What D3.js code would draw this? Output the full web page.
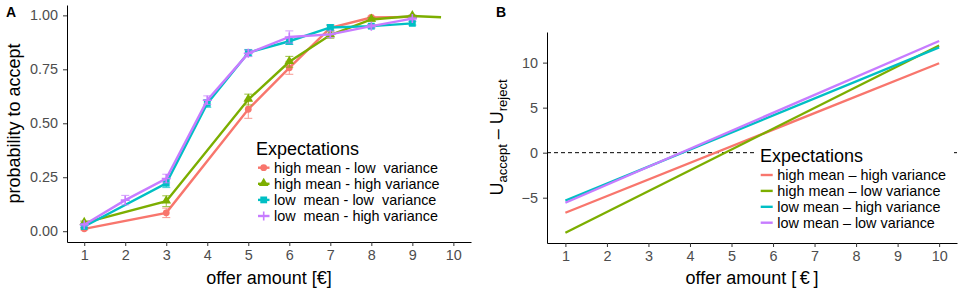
<!DOCTYPE html>
<html>
<head>
<meta charset="utf-8">
<script src="https://cdn.jsdelivr.net/npm/d3@7"></script>
<style>
  body { margin: 0; background: #fff; }
  svg { font-family: "Liberation Sans", Arial, sans-serif; }
  .tick text { fill: #4d4d4d; font-size: 14.4px; }
  .tick line { stroke: #333; }
  .domain { stroke: #000; }
</style>
</head>
<body>
<div id="chart"></div>
<script>
// ---- panel A data: probability to accept by offer amount ----
var seriesNamesA = ['high mean - low  variance', 'high mean - high variance', 'low  mean - low  variance', 'low  mean - high variance'];
var colorsA = ['#F8766D', '#7CAE00', '#00BFC4', '#C77CFF'];
var shapesA = ['circle', 'triangle', 'square', 'plus'];

var hmlvX = [1, 3, 5, 6, 7, 8, 9];
var hmlvY = [0.011, 0.085, 0.565, 0.757, 0.942, 0.99, 0.993];
var hmlvErr = [0.005, 0.022, 0.042, 0.03, 0.012, 0.006, 0.005];

var hmhvX = [1, 3, 5, 6, 7, 8, 9, 9.7];
var hmhvY = [0.039, 0.139, 0.61, 0.785, 0.909, 0.981, 0.997, 0.991];
var hmhvErr = [0.008, 0.025, 0.025, 0.025, 0.015, 0.008, 0.004, null];

var lmlvX = [1, 3, 4, 5, 6, 7, 8, 9];
var lmlvY = [0.022, 0.222, 0.592, 0.827, 0.88, 0.944, 0.95, 0.963];
var lmlvErr = [0.006, 0.02, 0.018, 0.015, 0.015, 0.012, 0.008, 0.008];

var lmhvX = [1, 2, 3, 4, 5, 6, 7, 8, 9];
var lmhvY = [0.03, 0.144, 0.244, 0.607, 0.824, 0.9, 0.912, 0.95, 0.985];
var lmhvErr = [0.006, 0.022, 0.02, 0.02, 0.015, 0.028, 0.015, 0.008, 0.006];

// ---- panel B data: fitted utility difference (lines from x=1 to x=10) ----
var seriesNamesB = ['high mean \u2013 high variance', 'high mean \u2013 low variance', 'low mean \u2013 high variance', 'low mean \u2013 low variance'];
var colorsB = ['#F8766D', '#7CAE00', '#00BFC4', '#C77CFF'];
var lineX = [1, 10];
var hmhvU = [-6.67, 9.93];
var hmlvU = [-8.89, 11.9];
var lmhvU = [-5.33, 11.7];
var lmlvU = [-5.56, 12.4];

var xTicks = [1, 2, 3, 4, 5, 6, 7, 8, 9, 10];
var yTicksA = [0, 0.25, 0.5, 0.75, 1];
var yTicksB = [-5, 0, 5, 10];

var W = 964, H = 292;
var svg = d3.select('#chart').append('svg').attr('width', W).attr('height', H);

var seriesA = [
  {x: hmlvX, y: hmlvY, e: hmlvErr},
  {x: hmhvX, y: hmhvY, e: hmhvErr},
  {x: lmlvX, y: lmlvY, e: lmlvErr},
  {x: lmhvX, y: lmhvY, e: lmhvErr}
].map(function(s, i){
  return {
    name: seriesNamesA[i], color: colorsA[i], shape: shapesA[i],
    pts: s.x.map(function(v, j){ return {x: v, y: s.y[j], e: s.e[j]}; })
  };
});

var seriesB = [hmhvU, hmlvU, lmhvU, lmlvU].map(function(u, i){
  return {name: seriesNamesB[i], color: colorsB[i], pts: lineX.map(function(v, j){ return {x: v, y: u[j]}; })};
});

// ================= panel A =================
var pa = {left: 67, right: 471, top: 5, bottom: 242};
var xA = d3.scaleLinear().domain([0.58, 10.43]).range([pa.left, pa.right]);
var yA = d3.scaleLinear().domain([-0.05, 1.048]).range([pa.bottom, pa.top]);

var gA = svg.append('g');

gA.append('g')
  .attr('transform', 'translate(0,' + pa.bottom + ')')
  .call(d3.axisBottom(xA).tickValues(xTicks).tickFormat(d3.format('d')).tickSize(4).tickSizeOuter(0).tickPadding(4))
  .selectAll('text').attr('dy', '0.71em');

gA.append('g')
  .attr('transform', 'translate(' + pa.left + ',0)')
  .call(d3.axisLeft(yA).tickValues(yTicksA).tickFormat(d3.format('.2f')).tickSize(4).tickSizeOuter(0).tickPadding(5));

var lineA = d3.line().x(function(d){ return xA(d.x); }).y(function(d){ return yA(d.y); });

seriesA.forEach(function(s){
  var g = gA.append('g');
  // error bars
  var eb = g.selectAll('g.eb').data(s.pts.filter(function(d){ return d.e != null; }))
    .enter().append('g').attr('stroke', s.color).attr('stroke-width', 1).attr('opacity', 0.75);
  eb.append('line')
    .attr('x1', function(d){ return xA(d.x); }).attr('x2', function(d){ return xA(d.x); })
    .attr('y1', function(d){ return yA(d.y - d.e); }).attr('y2', function(d){ return yA(d.y + d.e); });
  [-1, 1].forEach(function(sg){
    eb.append('line')
      .attr('x1', function(d){ return xA(d.x) - 4; }).attr('x2', function(d){ return xA(d.x) + 4; })
      .attr('y1', function(d){ return yA(d.y + sg * d.e); }).attr('y2', function(d){ return yA(d.y + sg * d.e); });
  });
  g.append('path').attr('d', lineA(s.pts))
    .attr('fill', 'none').attr('stroke', s.color).attr('stroke-width', 2.4);
  // markers (not on the extrapolated tail without error bar)
  drawMarkers(g, s.pts.filter(function(d){ return d.e != null; }).map(function(d){ return [xA(d.x), yA(d.y)]; }), s.shape, s.color);
});

function drawMarkers(g, pts, shape, color){
  pts.forEach(function(p){
    var x = p[0], y = p[1];
    if(shape === 'circle'){
      g.append('circle').attr('cx', x).attr('cy', y).attr('r', 3.4).attr('fill', color);
    } else if(shape === 'triangle'){
      g.append('path').attr('d', d3.symbol().type(d3.symbolTriangle).size(40)()).attr('transform', 'translate(' + x + ',' + (y - 0.5) + ')').attr('fill', color);
    } else if(shape === 'square'){
      g.append('rect').attr('x', x - 3.4).attr('y', y - 3.4).attr('width', 6.8).attr('height', 6.8).attr('fill', color);
    } else {
      g.append('path').attr('d', 'M' + (x - 4.5) + ',' + y + 'H' + (x + 4.5) + 'M' + x + ',' + (y - 4.5) + 'V' + (y + 4.5))
        .attr('stroke', color).attr('stroke-width', 1.6);
    }
  });
}

gA.append('text').attr('x', (pa.left + pa.right) / 2).attr('y', 284)
  .attr('text-anchor', 'middle').attr('font-size', 18).text('offer amount [\u20AC]');
gA.append('text').attr('transform', 'translate(19.5,' + ((pa.top + pa.bottom) / 2) + ') rotate(-90)')
  .attr('text-anchor', 'middle').attr('font-size', 18).text('probability to accept');
gA.append('text').attr('x', 6).attr('y', 17).attr('font-size', 14).attr('font-weight', 'bold').text('A');

// legend A
var legA = gA.append('g').attr('transform', 'translate(256,0)');
legA.append('text').attr('x', 0).attr('y', 155).attr('font-size', 18).text('Expectations');
seriesA.forEach(function(s, i){
  var cy = 167.7 + i * 16.1;
  legA.append('line').attr('x1', 2).attr('x2', 13.5).attr('y1', cy).attr('y2', cy)
    .attr('stroke', s.color).attr('stroke-width', 2.4);
  drawMarkers(legA, [[7.7, cy]], s.shape, s.color);
  legA.append('text').attr('x', 18).attr('y', cy).attr('dy', '0.36em')
    .attr('font-size', 14.4).style('white-space', 'pre').text(s.name);
});

// ================= panel B =================
var pb = {left: 547, right: 957, top: 32, bottom: 243};
var xB = d3.scaleLinear().domain([0.557, 10.43]).range([pb.left, pb.right]);
var yB = d3.scaleLinear().domain([-10.03, 13.4]).range([pb.bottom, pb.top]);

var gB = svg.append('g');

gB.append('g')
  .attr('transform', 'translate(0,' + pb.bottom + ')')
  .call(d3.axisBottom(xB).tickValues(xTicks).tickFormat(d3.format('d')).tickSize(4).tickSizeOuter(0).tickPadding(4))
  .selectAll('text').attr('dy', '0.71em');

gB.append('g')
  .attr('transform', 'translate(' + pb.left + ',0)')
  .call(d3.axisLeft(yB).tickValues(yTicksB).tickFormat(function(d){ return d < 0 ? '\u2212' + Math.abs(d) : d; }).tickSize(4).tickSizeOuter(0).tickPadding(5));

gB.append('line')
  .attr('x1', pb.left).attr('x2', pb.right).attr('y1', yB(0)).attr('y2', yB(0))
  .attr('stroke', '#000').attr('stroke-width', 1).attr('stroke-dasharray', '4,3');

var lineB = d3.line().x(function(d){ return xB(d.x); }).y(function(d){ return yB(d.y); });
seriesB.forEach(function(s){
  gB.append('path').attr('d', lineB(s.pts))
    .attr('fill', 'none').attr('stroke', s.color).attr('stroke-width', 2.4);
});

gB.append('text').attr('x', (pb.left + pb.right) / 2).attr('y', 284)
  .attr('text-anchor', 'middle').attr('font-size', 18).text('offer amount [\u2009\u20AC\u2009]');

var yt = gB.append('text').attr('transform', 'translate(503,' + ((pb.top + pb.bottom) / 2) + ') rotate(-90)')
  .attr('text-anchor', 'middle').attr('font-size', 18);
yt.append('tspan').text('U');
yt.append('tspan').attr('font-size', 13).attr('dy', 4).text('accept');
yt.append('tspan').attr('dy', -4).text(' \u2013 U');
yt.append('tspan').attr('font-size', 13).attr('dy', 4).text('reject');

gB.append('text').attr('x', 496).attr('y', 17).attr('font-size', 14).attr('font-weight', 'bold').text('B');

// legend B (white box over the dashed line)
var legB = gB.append('g').attr('transform', 'translate(754,0)');
legB.append('rect').attr('x', 0).attr('y', 140).attr('width', 200).attr('height', 94).attr('fill', '#fff');
legB.append('text').attr('x', 6).attr('y', 161.7).attr('font-size', 18).text('Expectations');
seriesB.forEach(function(s, i){
  var cy = 175 + i * 15.9;
  legB.append('line').attr('x1', 6.7).attr('x2', 18.7).attr('y1', cy).attr('y2', cy)
    .attr('stroke', s.color).attr('stroke-width', 2.4);
  legB.append('text').attr('x', 23.3).attr('y', cy).attr('dy', '0.36em')
    .attr('font-size', 14.4).text(s.name);
});
</script>
</body>
</html>
